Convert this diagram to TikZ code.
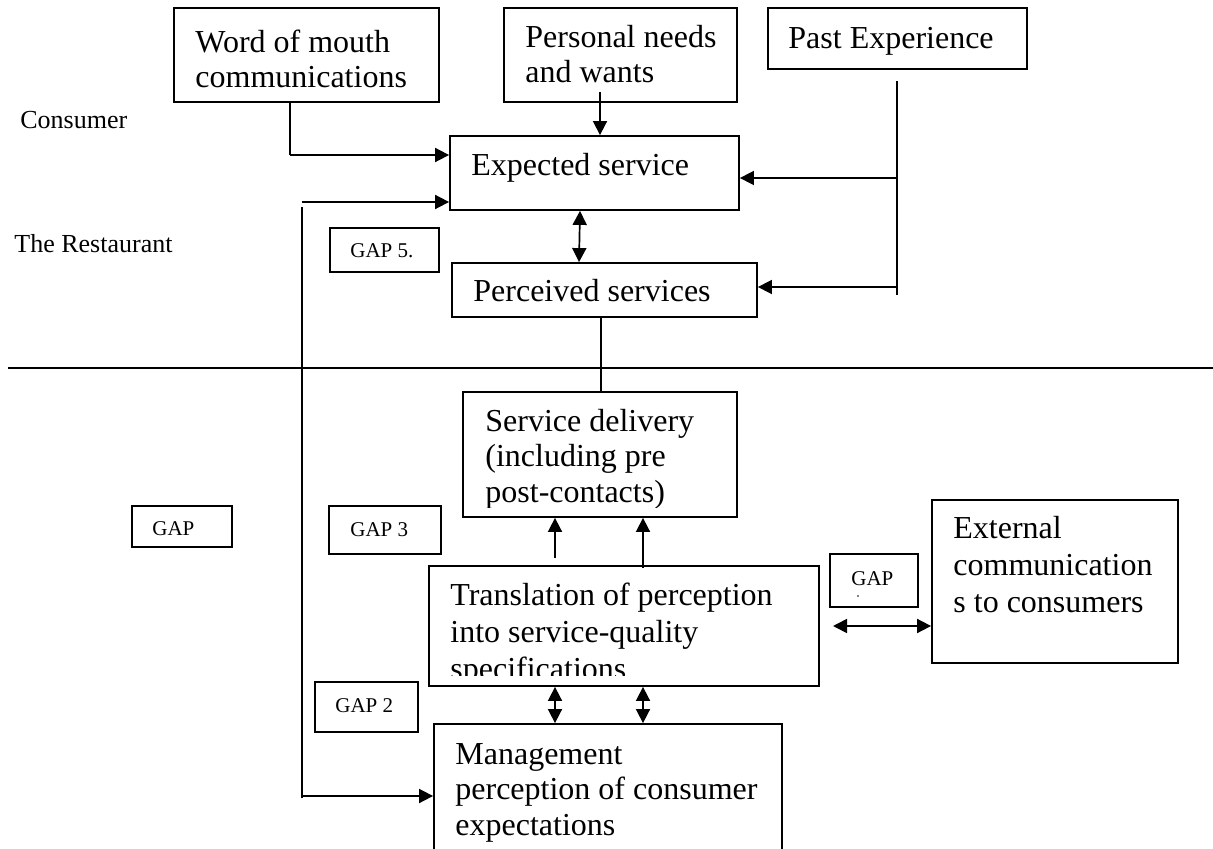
\documentclass[tikz,border=0pt]{standalone}
\usepackage{fontspec}
\setmainfont{Liberation Serif}
\usetikzlibrary{arrows.meta,fit}
\newcommand{\bigtext}{\fontsize{16}{17.75}\selectfont}
\newcommand{\widetext}{\fontsize{16}{18.5}\selectfont}
\newcommand{\sidetext}{\fontsize{13}{15}\selectfont}
\newcommand{\gaptext}{\fontsize{10.5}{12}\selectfont}
\tikzset{
  box/.style={draw, line width=0.9pt, inner sep=0pt},
  % multi-line texts are placed by the baseline of their last line
  txt/.style={anchor=base west, inner sep=0pt, align=left, font=\bigtext},
  side/.style={anchor=base west, inner sep=0pt, font=\sidetext},
  gaplbl/.style={anchor=west, inner sep=0pt, font=\gaptext},
  link/.style={line width=0.85pt},
  arr/.style={link, -{Triangle[length=7pt,width=7pt]}},
  arrr/.style={link, {Triangle[length=7pt,width=7pt]}-{Triangle[length=7pt,width=7pt]}}
}
\begin{document}
\begin{tikzpicture}[x=0.5pt,y=-0.5pt]
\useasboundingbox (0,0) rectangle (1213,849);

% consumer side boxes
\node[box, fit={(174,8) (439,102)}] (wom) {};
\node[txt] (womT) at (195,88) {Word of mouth\\communications};
\node[box, fit={(504,8) (737,102)}] (pn) {};
\node[txt] (pnT) at (525,83) {Personal needs\\and wants};
\node[box, fit={(768,8) (1027,69)}] (pe) {};
\node[txt] (peT) at (788,49) {Past Experience};

\node[box, fit={(450,136) (739,210)}] (exp) {};
\node[txt] (expT) at (471,176) {Expected service};
\node[box, fit={(452,263) (757,317)}] (per) {};
\node[txt] (perT) at (473,302) {Perceived services};

% side labels
\node[side] (cons) at (20,129) {Consumer};
\node[side] (rest) at (14,253) {The Restaurant};

% gap boxes
\node[box, fit={(330,228) (439,272)}] (g5) {};
\node[gaplbl] (g5T) at (350,251) {GAP 5.};
\node[box, fit={(132,506) (232,547)}] (g1) {};
\node[gaplbl] (g1T) at (152,529) {GAP};
\node[box, fit={(329,506) (441,554)}] (g3) {};
\node[gaplbl] (g3T) at (350,530) {GAP 3};
\node[box, fit={(315,682) (418,732)}] (g2) {};
\node[gaplbl] (g2T) at (335,706) {GAP 2};
\node[box, fit={(830,554) (918,607)}] (g4) {};
\node[gaplbl] (g4T) at (851,579) {GAP};
\fill (858,596) circle (0.45pt);

% restaurant side boxes
\node[box, fit={(463,392) (737,517)}] (sd) {};
\begin{scope}
  \clip (463,392) rectangle (737,507);
  \node[txt] (sdT) at (485,502) {Service delivery\\(including pre\\post-contacts)};
\end{scope}
\node[box, fit={(429,566) (819,686)}] (tr) {};
\begin{scope}
  \clip (429,566) rectangle (819,675);
  \node[txt, font=\widetext] (trT) at (450,679) {Translation of perception\\into service-quality\\specifications};
\end{scope}
\node[box, fit={(434,724) (782,880)}] (mg) {};
\node[txt] (mgT) at (455,835) {Management\\perception of consumer\\expectations};
\node[box, fit={(932,500) (1178,663)}] (ext) {};
\node[txt, font=\widetext] (extT) at (953,612) {External\\communication\\s to consumers};

% divider between consumer and restaurant
\draw[line width=1.3pt] (8,368) -- (1213,368);

% free ends of connectors
\coordinate (pnEnd) at (600,92);
\coordinate (peTop) at (897,81);
\coordinate (peBot) at (897,295);
\coordinate (fbTop) at (302,207);
\coordinate (fbBot) at (302,798);
\coordinate (trUp) at (555,558);
\coordinate (extL) at (833,626);

% connectors
\draw[link] (wom.south -| 290,0) -- (290,155);
\draw[arr] (290,155) -- (exp.west |- 0,155);
\draw[arr] (pnEnd) -- (exp.north -| pnEnd);
\draw[link] (peTop) -- (peBot);
\draw[arr] (peTop |- 0,178) -- (exp.east |- 0,178);
\draw[arr] (peTop |- 0,287) -- (per.east |- 0,287);
\draw[arrr] (exp.south -| 580,0) -- (per.north -| 579,0);
\draw[link] (per.south -| 601,0) -- (sd.north -| 601,0);

\draw[link] (fbTop) -- (fbBot);
\draw[arr] (fbTop |- 0,202) -- (exp.west |- 0,202);
\draw[arr] (fbTop |- 0,796) -- (mg.west |- 0,796);

\draw[arr] (trUp) -- (sd.south -| trUp);
\draw[arr] ([yshift=-1.5pt]tr.north -| 643,0) -- (sd.south -| 643,0);
\draw[arrr] (tr.south -| 555,0) -- (mg.north -| 555,0);
\draw[arrr] (tr.south -| 643,0) -- (mg.north -| 643,0);
\draw[arrr] (extL) -- (ext.west |- extL);
\end{tikzpicture}
\end{document}
